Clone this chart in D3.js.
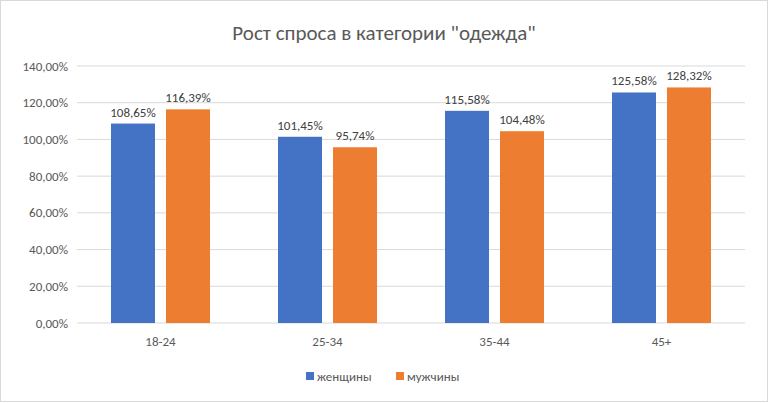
<!DOCTYPE html>
<html><head><meta charset="utf-8">
<script src="https://cdn.jsdelivr.net/npm/d3@7"></script>
<style>body{margin:0;background:#fff}text{font-family:Calibri,"Liberation Sans","Open Sans",sans-serif}</style>
</head><body><svg id="c" width="769" height="403"></svg>
<script>
const categories=["18-24","25-34","35-44","45+"];
const women=[108.65,101.45,115.58,125.58];
const men=[116.39,95.74,104.48,128.32];
const seriesNames=["женщины","мужчины"];
const colors=["#4472C4","#ED7D31"];
const yTicks=[0,20,40,60,80,100,120,140];
const fmt=v=>v.toFixed(2).replace(".",",")+"%";

const svg=d3.select("#c");
svg.append("rect").attr("x",0.5).attr("y",0.5).attr("width",767).attr("height",401).attr("fill","#fff").attr("stroke","#d9d9d9");
const L=77,R=745,T=66,B=323;
const x=d3.scaleBand().domain(categories).range([L,R]);
const y=d3.scaleLinear().domain([0,140]).range([B,T]);
svg.append("g").selectAll("line").data(yTicks).join("line")
 .attr("x1",L).attr("x2",R).attr("y1",d=>y(d)).attr("y2",d=>y(d)).attr("stroke","#d9d9d9");
svg.append("g").selectAll("text").data(yTicks).join("text")
 .attr("x",L-9).attr("y",d=>y(d)+4.5).attr("text-anchor","end").attr("font-size",13).attr("fill","#595959").text(d=>fmt(d));
svg.append("g").selectAll("text").data(categories).join("text")
 .attr("x",d=>x(d)+x.bandwidth()/2).attr("y",B+23).attr("text-anchor","middle").attr("font-size",13).attr("fill","#595959").text(d=>d);
const bw=44,gap=11;
[women,men].forEach((arr,si)=>{
  const off=si===0?-gap/2-bw:gap/2;
  const g=svg.append("g");
  g.selectAll("rect").data(arr).join("rect")
   .attr("x",(d,i)=>x(categories[i])+x.bandwidth()/2+off).attr("width",bw)
   .attr("y",d=>y(d)).attr("height",d=>B-y(d)).attr("fill",colors[si]);
  g.selectAll("text").data(arr).join("text")
   .attr("x",(d,i)=>x(categories[i])+x.bandwidth()/2+off+bw/2).attr("y",d=>y(d)-7)
   .attr("text-anchor","middle").attr("font-size",13).attr("fill","#404040").text(d=>fmt(d));
});
svg.append("text").attr("x",384).attr("y",40).attr("text-anchor","middle").attr("font-size",21).attr("fill","#595959").text('Рост спроса в категории "одежда"');
const lx=[306,396];
seriesNames.forEach((n,i)=>{
  svg.append("rect").attr("x",lx[i]).attr("y",372).attr("width",8).attr("height",8).attr("fill",colors[i]);
  svg.append("text").attr("x",lx[i]+11).attr("y",381).attr("font-size",13).attr("fill","#595959").text(n);
});
</script></body></html>
